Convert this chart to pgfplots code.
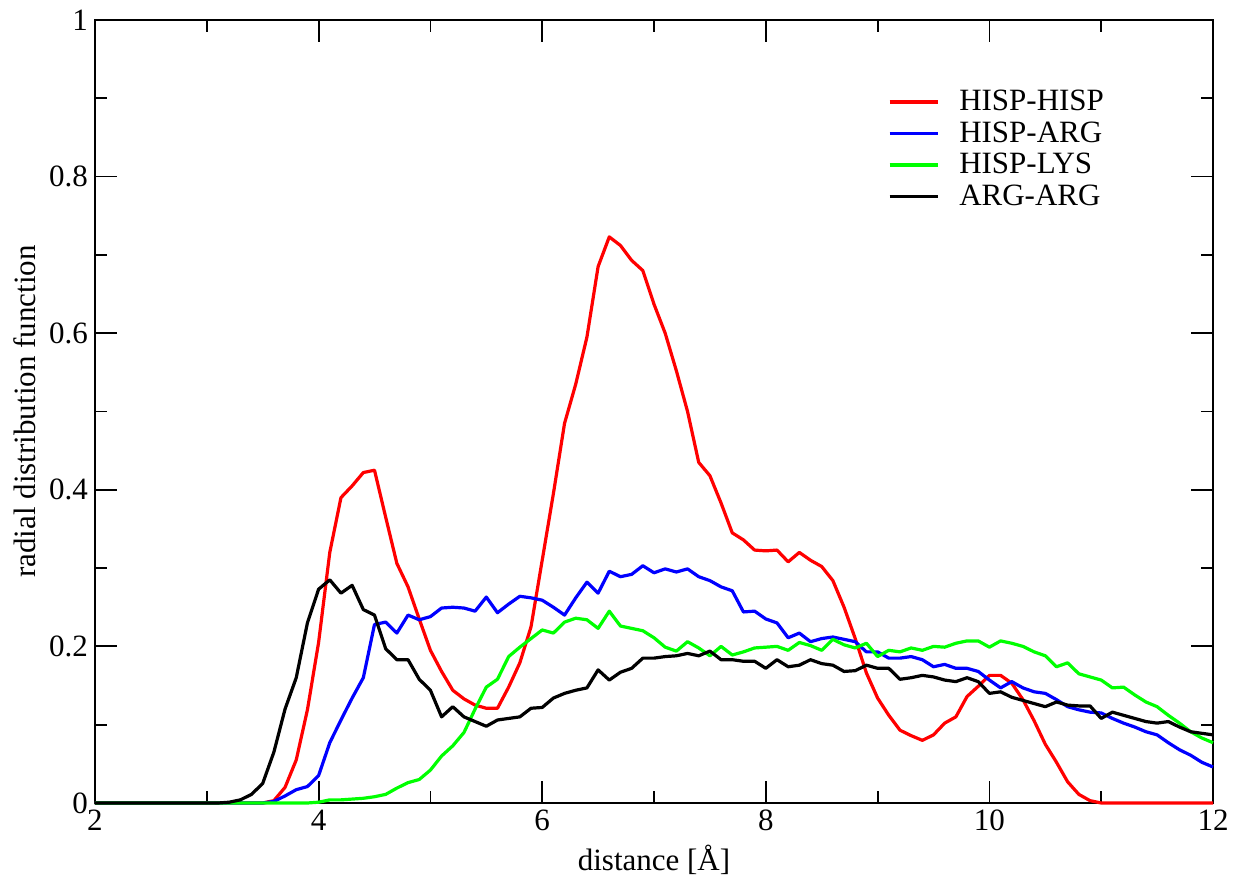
\documentclass[border=0pt]{standalone}
\usepackage{fontspec}
\setmainfont{Liberation Serif}
\usepackage{pgfplots}
\usepackage{pgfplotstable}
\pgfplotsset{compat=1.18}
\pgfplotstableread{
r hh ha hl aa
2.0 0 0 0 0
2.1 0 0 0 0
2.2 0 0 0 0
2.3 0 0 0 0
2.4 0 0 0 0
2.5 0 0 0 0
2.6 0 0 0 0
2.7 0 0 0 0
2.8 0 0 0 0
2.9 0 0 0 0
3.0 0 0 0 0
3.1 0 0 0 0
3.2 0 0 0 0.001
3.3 0 0 0 0.004
3.4 0 0 0 0.011
3.5 0 0 0 0.025
3.6 0.003 0.002 0 0.065
3.7 0.020 0.009 0 0.120
3.8 0.055 0.017 0 0.160
3.9 0.119 0.021 0 0.230
4.0 0.205 0.035 0.001 0.273
4.1 0.320 0.077 0.004 0.285
4.2 0.390 0.106 0.004 0.268
4.3 0.405 0.134 0.005 0.278
4.4 0.422 0.160 0.006 0.247
4.5 0.425 0.228 0.008 0.240
4.6 0.365 0.231 0.011 0.197
4.7 0.306 0.217 0.019 0.183
4.8 0.276 0.240 0.026 0.183
4.9 0.235 0.234 0.030 0.158
5.0 0.195 0.238 0.042 0.144
5.1 0.168 0.249 0.060 0.110
5.2 0.144 0.250 0.073 0.123
5.3 0.133 0.249 0.090 0.110
5.4 0.125 0.245 0.120 0.104
5.5 0.121 0.263 0.148 0.098
5.6 0.121 0.243 0.158 0.106
5.7 0.148 0.254 0.187 0.108
5.8 0.179 0.264 0.199 0.110
5.9 0.225 0.262 0.210 0.121
6.0 0.310 0.259 0.221 0.122
6.1 0.395 0.250 0.217 0.134
6.2 0.485 0.240 0.231 0.140
6.3 0.535 0.262 0.236 0.144
6.4 0.595 0.282 0.234 0.147
6.5 0.685 0.268 0.223 0.170
6.6 0.723 0.296 0.245 0.157
6.7 0.712 0.289 0.226 0.167
6.8 0.693 0.292 0.223 0.172
6.9 0.680 0.303 0.220 0.185
7.0 0.637 0.294 0.211 0.185
7.1 0.600 0.299 0.199 0.187
7.2 0.552 0.295 0.194 0.188
7.3 0.500 0.299 0.206 0.191
7.4 0.435 0.289 0.198 0.188
7.5 0.418 0.284 0.188 0.194
7.6 0.383 0.276 0.200 0.183
7.7 0.345 0.271 0.189 0.183
7.8 0.336 0.244 0.193 0.181
7.9 0.323 0.245 0.198 0.181
8.0 0.322 0.235 0.199 0.172
8.1 0.323 0.230 0.200 0.183
8.2 0.308 0.211 0.195 0.174
8.3 0.320 0.217 0.205 0.176
8.4 0.310 0.206 0.201 0.183
8.5 0.302 0.210 0.195 0.178
8.6 0.284 0.212 0.209 0.176
8.7 0.250 0.209 0.202 0.168
8.8 0.210 0.206 0.198 0.169
8.9 0.166 0.193 0.204 0.176
9.0 0.134 0.193 0.187 0.172
9.1 0.112 0.185 0.195 0.172
9.2 0.093 0.185 0.193 0.158
9.3 0.086 0.187 0.198 0.160
9.4 0.080 0.183 0.195 0.163
9.5 0.087 0.174 0.200 0.161
9.6 0.102 0.177 0.199 0.157
9.7 0.110 0.172 0.204 0.155
9.8 0.136 0.172 0.207 0.160
9.9 0.149 0.168 0.207 0.155
10.0 0.163 0.157 0.199 0.140
10.1 0.163 0.147 0.207 0.142
10.2 0.153 0.155 0.204 0.135
10.3 0.132 0.147 0.200 0.131
10.4 0.105 0.142 0.193 0.127
10.5 0.075 0.140 0.188 0.123
10.6 0.052 0.132 0.174 0.129
10.7 0.027 0.123 0.179 0.125
10.8 0.011 0.119 0.165 0.124
10.9 0.003 0.116 0.161 0.124
11.0 0 0.115 0.157 0.108
11.1 0 0.108 0.147 0.116
11.2 0 0.102 0.148 0.112
11.3 0 0.097 0.138 0.108
11.4 0 0.091 0.129 0.104
11.5 0 0.087 0.123 0.102
11.6 0 0.077 0.112 0.104
11.7 0 0.068 0.102 0.097
11.8 0 0.061 0.091 0.091
11.9 0 0.052 0.083 0.089
12.0 0 0.046 0.077 0.087
}\rdf
\definecolor{pureblue}{RGB}{0,0,255}
\definecolor{puregreen}{RGB}{0,255,0}
\definecolor{purered}{RGB}{255,0,0}
\newcommand{\lblfont}{\fontsize{15.5}{18}\selectfont}
\begin{document}
\begin{tikzpicture}
\begin{axis}[name=ax,
  scale only axis, width=559pt, height=391.5pt,
  xmin=2, xmax=12, ymin=0, ymax=1,
  xtick={2,4,6,8,10,12}, ytick={0,0.2,0.4,0.6,0.8,1},
  minor x tick num=1, minor y tick num=1,
  tick align=inside, major tick length=11pt, minor tick length=6pt,
  axis line style={line width=1pt},
  every tick/.style={black, line width=0.9pt},
  /pgf/number format/assume math mode=true,
  tick label style={font=\lblfont},
  label style={font=\lblfont},
  xlabel={distance [Å]},
  ylabel={radial distribution function},
  clip=false,
  legend cell align=left,
  legend image code/.code={\draw[#1] (0pt,0pt) -- (24pt,0pt);},
  legend style={draw=none, fill=none, at={(axis description cs:0.709,0.9134)}, anchor=north west,
    inner sep=0pt, font=\lblfont, row sep=2pt,
    nodes={inner sep=1pt},
    /tikz/every odd column/.append style={column sep=9pt}},
  every axis plot/.append style={line width=1.6pt, line join=round},
]
\addplot[purered] table[x=r, y=hh] {\rdf};
\addlegendentry{HISP-HISP}
\addplot[pureblue] table[x=r, y=ha] {\rdf};
\addlegendentry{HISP-ARG}
\addplot[puregreen] table[x=r, y=hl] {\rdf};
\addlegendentry{HISP-LYS}
\addplot[black] table[x=r, y=aa] {\rdf};
\addlegendentry{ARG-ARG}
\end{axis}
\path (ax.south west) ++(-47.5pt,-44.5pt) coordinate (bbl);
\path (ax.north east) ++(14pt,10pt) coordinate (btr);
\path[use as bounding box] (bbl) rectangle (btr);
\end{tikzpicture}
\end{document}
